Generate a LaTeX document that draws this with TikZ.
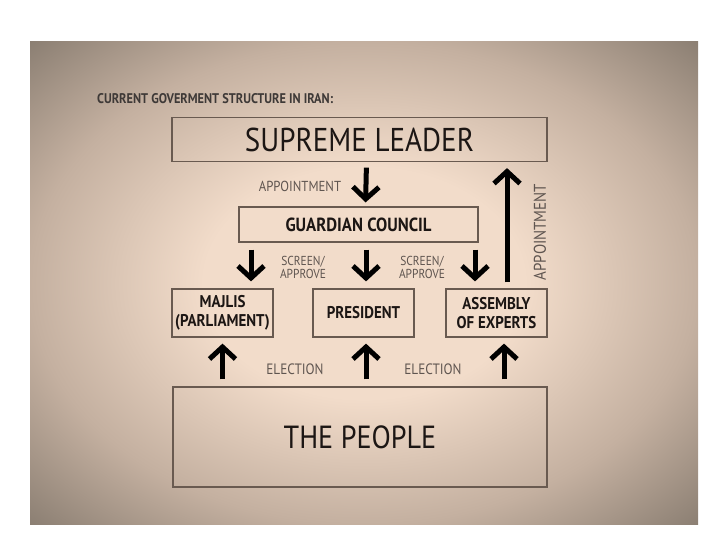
\documentclass[tikz,border=0pt]{standalone}
\usepackage{fontspec}
\setmainfont{PT Sans}[FakeStretch=0.88]
\usetikzlibrary{arrows.meta}

\definecolor{boxline}{RGB}{105,90,80}
\definecolor{labelgray}{RGB}{95,85,80}
\definecolor{inkdark}{RGB}{28,22,20}
\definecolor{bgouter}{RGB}{136,124,112}
\definecolor{bgmid}{RGB}{196,176,160}
\definecolor{bginner}{RGB}{242,220,202}
\pgfdeclareradialshading{govglow}{\pgfpoint{0bp}{0bp}}{color(0bp)=(bginner); color(12bp)=(bginner); color(25bp)=(bgmid); color(36bp)=(bgouter); color(50bp)=(bgouter)}

\begin{document}
\begin{tikzpicture}[x=1pt,y=-1pt,
    govbox/.style={draw=boxline, line width=1.2pt, inner sep=0pt, text=inkdark, align=center},
    govarrow/.style={line width=5pt, -{Straight Barb[length=12pt,width=26pt]}},
    steplabel/.style={text=labelgray, align=center, font=\fontsize{14.5}{15}\selectfont}]

    \useasboundingbox (0,0) rectangle (720,540);
    \shade[shading=govglow] (30,42) rectangle (698,524);

    \node[anchor=west, inner sep=0pt, text=inkdark!85, font=\bfseries\fontsize{14}{15}\selectfont] (title) at (97,99) {CURRENT GOVERMENT STRUCTURE IN IRAN:};

    \node[govbox, minimum width=375pt, minimum height=44pt, font=\fontsize{33}{36}\selectfont] (sl) at (359.5,139.5) {SUPREME LEADER};
    \node[govbox, minimum width=239pt, minimum height=35pt, font=\bfseries\fontsize{19}{21}\selectfont] (gc) at (358.5,224.5) {GUARDIAN COUNCIL};
    \node[govbox, minimum width=101pt, minimum height=48pt, font=\bfseries\fontsize{17}{19}\selectfont] (mj) at (222.5,313) {MAJLIS\\(PARLIAMENT)};
    \node[govbox, minimum width=101pt, minimum height=48pt, font=\bfseries\fontsize{17}{19}\selectfont] (pr) at (363.5,313) {PRESIDENT};
    \node[govbox, minimum width=101pt, minimum height=48pt, font=\bfseries\fontsize{17}{19}\selectfont] (asm) at (496.5,313) {ASSEMBLY\\OF EXPERTS};
    \node[govbox, minimum width=374pt, minimum height=100pt, font=\fontsize{32}{35}\selectfont] (pp) at (360,437) {THE PEOPLE};

    % labels
    \node[steplabel] (appt) at (300,186) {APPOINTMENT};
    \node[steplabel, font=\fontsize{13}{13}\selectfont] (screenl) at (303,267) {SCREEN/\\APPROVE};
    \node[steplabel, font=\fontsize{13}{13}\selectfont] (screenr) at (422,267) {SCREEN/\\APPROVE};
    \node[steplabel, font=\fontsize{15}{16}\selectfont] (electl) at (295,369) {ELECTION};
    \node[steplabel, font=\fontsize{15}{16}\selectfont] (electr) at (433,369) {ELECTION};
    \node[steplabel, rotate=90, font=\fontsize{17}{18}\selectfont] (apptup) at (540,232) {APPOINTMENT};

    % down from the leader and the council
    \draw[govarrow, shorten <=5.5pt, shorten >=4pt] ([xshift=7pt]sl.south) -- ([xshift=7pt]gc.north);
    \draw[govarrow, shorten <=7pt, shorten >=7pt] ([xshift=28.5pt]mj.north |- gc.south) -- ([xshift=28.5pt]mj.north);
    \draw[govarrow, shorten <=7pt, shorten >=7pt] ([xshift=2.5pt]pr.north |- gc.south) -- ([xshift=2.5pt]pr.north);
    \draw[govarrow, shorten <=7pt, shorten >=7pt] ([xshift=-21.5pt]asm.north |- gc.south) -- ([xshift=-21.5pt]asm.north);

    % up from the people
    \draw[govarrow, shorten <=7pt, shorten >=6pt] (pp.north -| mj.south) -- (mj.south);
    \draw[govarrow, shorten <=7pt, shorten >=6pt] ([xshift=2.5pt]pp.north -| pr.south) -- ([xshift=2.5pt]pr.south);
    \draw[govarrow, shorten <=7pt, shorten >=6pt] ([xshift=7.5pt]pp.north -| asm.south) -- ([xshift=7.5pt]asm.south);
    \draw[govarrow, shorten <=6pt, shorten >=6pt] ([xshift=10.5pt]asm.north) -- ([xshift=10.5pt]asm.north |- sl.south);

\end{tikzpicture}
\end{document}
